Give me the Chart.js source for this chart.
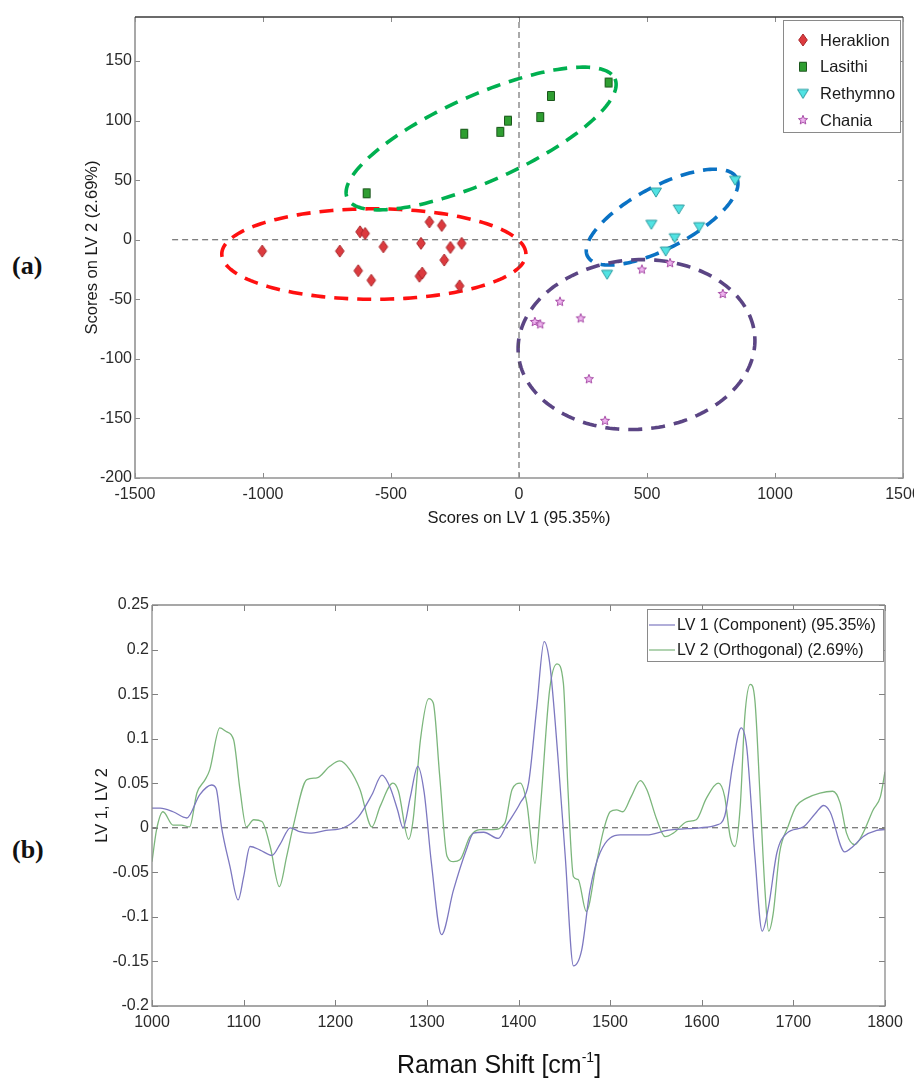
<!DOCTYPE html>
<html>
<head>
<meta charset="utf-8">
<script src="https://cdn.jsdelivr.net/npm/chart.js@4.4.1/dist/chart.umd.min.js"></script>
<style>
  html, body { margin: 0; padding: 0; background: #fff; }
  body { width: 914px; height: 1081px; position: relative; overflow: hidden; font-family: 'Liberation Sans', Arial, sans-serif; }
  .panel { position: absolute; left: 0; }
  #panel-a { top: 0; }
  #panel-b { top: 580px; }
  .tag { position: absolute; left: 12px; font: bold 26px 'Liberation Serif', serif; color: #111; line-height: 1; }
  #tag-a { top: 253px; }
  #tag-b { top: 837px; }
  #xtitle-b { position: absolute; top: 1050px; left: 499px; transform: translateX(-50%); font-size: 25px; color: #111; white-space: nowrap; line-height: 1.15; }
  #xtitle-b sup { font-size: 14px; vertical-align: 11px; line-height: 0; }
</style>
</head>
<body>
<div class="tag" id="tag-a">(a)</div>
<canvas class="panel" id="panel-a" width="914" height="545"></canvas>
<div class="tag" id="tag-b">(b)</div>
<canvas class="panel" id="panel-b" width="914" height="501"></canvas>
<div id="xtitle-b">Raman Shift [cm<sup>-1</sup>]</div>

<script>
// ---------- (a) scores on LV1 / LV2 ----------
const heraklionX = [-1003, -700, -621, -601, -530, -628, -577, -383, -350, -302, -268, -224, -292, -389, -378, -232];
const heraklionY = [-9.5, -9.5, 6.7, 5.3, -5.9, -26, -34, -3, 15, 12, -6.5, -3, -17, -30.6, -28, -38.7];
const lasithiX = [-595, -214, -73, -43, 83, 125, 350];
const lasithiY = [39, 89, 90.6, 100, 103, 120.7, 132];
const rethymnoX = [535, 624, 517, 704, 608, 573, 344, 844];
const rethymnoY = [40, 25.8, 13, 11, 1.7, -9.5, -29, 50];
const chaniaX = [160, 62, 83, 241, 273, 336, 480, 590, 796];
const chaniaY = [-52, -69, -71, -66, -117, -152, -25, -19.6, -45.5];

const scoresXTicks = [-1500, -1000, -500, 0, 500, 1000, 1500];
const scoresYTicks = [-200, -150, -100, -50, 0, 50, 100, 150];

// dashed zero lines
const zeroLineX = [-1355, 1500];
const zeroLineY = [-200, 187];

// group ellipses (centre + two conjugate semi-axes, in score units)
const ellipseCX = [-567, -148, 559, 459];
const ellipseCY = [-12, 85, 19, -88];
const ellipseU = [[594, 0], [523, 50], [291, 33], [462, 7]];
const ellipseV = [[0, 38], [68, -33], [56, -23], [23, -71]];
const ellipseColors = ['#ff1010', '#00b050', '#0a72c4', '#5b4584'];

// ---------- (b) loadings ----------
const lv1Shift = [1000, 1009, 1023, 1038, 1052, 1065, 1070, 1076, 1085, 1094, 1100, 1107, 1118, 1131, 1140, 1151, 1160, 1172, 1190, 1209, 1225, 1240, 1251, 1260, 1268, 1274, 1282, 1290, 1297, 1305, 1316, 1329, 1343, 1351, 1362, 1378, 1387, 1402, 1411, 1420, 1428, 1434, 1443, 1451, 1460, 1469, 1478, 1489, 1511, 1540, 1562, 1598, 1616, 1625, 1634, 1643, 1649, 1658, 1666, 1673, 1682, 1693, 1711, 1724, 1733, 1740, 1756, 1765, 1776, 1791, 1800];
const lv1Values = [0.022, 0.022, 0.018, 0.011, 0.037, 0.048, 0.044, 0.0, -0.043, -0.081, -0.055, -0.021, -0.025, -0.031, -0.018, 0.0, -0.004, -0.006, -0.003, 0.0, 0.012, 0.037, 0.059, 0.045, 0.02, 0.0, 0.035, 0.069, 0.04, -0.04, -0.12, -0.07, -0.025, -0.006, -0.005, -0.012, 0.003, 0.028, 0.05, 0.136, 0.209, 0.185, 0.08, -0.032, -0.155, -0.137, -0.07, -0.028, -0.008, -0.008, -0.003, 0.0, 0.003, 0.013, 0.072, 0.112, 0.091, -0.032, -0.116, -0.088, -0.028, -0.006, 0.001, 0.016, 0.025, 0.018, -0.027, -0.021, -0.01, -0.003, -0.002];
const lv2Shift = [1000, 1005, 1012, 1023, 1032, 1041, 1049, 1058, 1063, 1074, 1081, 1089, 1096, 1103, 1111, 1120, 1129, 1139, 1147, 1154, 1169, 1180, 1194, 1205, 1216, 1227, 1240, 1249, 1263, 1269, 1280, 1285, 1293, 1302, 1307, 1314, 1322, 1329, 1336, 1347, 1358, 1372, 1385, 1393, 1402, 1409, 1418, 1424, 1434, 1442, 1449, 1454, 1460, 1465, 1474, 1485, 1493, 1500, 1507, 1514, 1523, 1533, 1540, 1551, 1560, 1569, 1584, 1594, 1605, 1618, 1625, 1631, 1636, 1642, 1647, 1653, 1658, 1664, 1669, 1673, 1678, 1685, 1694, 1703, 1714, 1729, 1743, 1751, 1758, 1767, 1776, 1787, 1795, 1800];
const lv2Values = [-0.038, -0.002, 0.018, 0.003, 0.003, 0.001, 0.039, 0.054, 0.065, 0.112, 0.108, 0.099, 0.043, 0.001, 0.009, 0.007, -0.021, -0.066, -0.032, 0.001, 0.054, 0.056, 0.069, 0.075, 0.065, 0.043, 0.001, 0.024, 0.05, 0.041, -0.013, 0.009, 0.099, 0.145, 0.14, 0.058, -0.032, -0.038, -0.036, -0.01, -0.002, -0.002, 0.005, 0.043, 0.05, 0.028, -0.04, 0.024, 0.155, 0.184, 0.162, 0.043, -0.055, -0.058, -0.094, -0.04, -0.002, 0.018, 0.02, 0.018, 0.035, 0.053, 0.043, 0.009, -0.01, -0.006, 0.007, 0.009, 0.033, 0.05, 0.035, -0.01, -0.021, 0.024, 0.125, 0.161, 0.143, 0.028, -0.07, -0.116, -0.096, -0.028, 0.001, 0.024, 0.033, 0.039, 0.041, 0.028, -0.006, -0.019, -0.006, 0.02, 0.035, 0.063];

const shiftTicks = [1000, 1100, 1200, 1300, 1400, 1500, 1600, 1700, 1800];
const loadingTicks = [-0.2, -0.15, -0.1, -0.05, 0, 0.05, 0.1, 0.15, 0.2, 0.25];
const loadingTickLabels = ['-0.2', '-0.15', '-0.1', '-0.05', '0', '0.05', '0.1', '0.15', '0.2', '0.25'];
const loadingZeroX = [1000, 1800];

const FONT = "'Liberation Sans', Arial, sans-serif";
const zip = (xs, ys) => xs.map((x, i) => ({ x, y: ys[i] }));

// marker sprites used as pointStyle
function marker(kind) {
  const c = document.createElement('canvas');
  c.width = 14; c.height = 14;
  const g = c.getContext('2d');
  g.translate(7, 7);
  g.lineWidth = 1;
  g.beginPath();
  if (kind === 'diamond') {
    g.moveTo(0, -6); g.lineTo(4.3, 0); g.lineTo(0, 6); g.lineTo(-4.3, 0); g.closePath();
    g.fillStyle = '#dc3a3e'; g.strokeStyle = '#a9272b';
  } else if (kind === 'square') {
    g.rect(-3.5, -4.5, 7, 9);
    g.fillStyle = '#2f9e31'; g.strokeStyle = '#1b561c';
  } else if (kind === 'triangle') {
    g.moveTo(-5.5, -4); g.lineTo(5.5, -4); g.lineTo(0, 5); g.closePath();
    g.fillStyle = '#52e3e3'; g.strokeStyle = '#2b9ba0';
  } else {
    for (let i = 0; i < 10; i++) {
      const r = i % 2 ? 2.1 : 4.8;
      const a = -Math.PI / 2 + i * Math.PI / 5;
      g.lineTo(r * Math.cos(a), r * Math.sin(a));
    }
    g.closePath();
    g.fillStyle = '#efb4ef'; g.strokeStyle = '#a54aa5';
  }
  g.fill(); g.stroke();
  return c;
}

// pins the axis box so the plot area lands where the figure has it
const fixedTicks = values => scale => { scale.ticks = values.map(v => ({ value: v })); };
const fitHeight = h => scale => { scale.height = h; scale.paddingLeft = 0; scale.paddingRight = 0; };
const fitWidth = w => scale => { scale.width = w; scale.paddingTop = 0; scale.paddingBottom = 0; };

// box + inward tick marks, MATLAB style
const framePlugin = {
  id: 'frame',
  afterDraw(chart, args, opts) {
    const { ctx, chartArea: a, scales: { x, y } } = chart;
    const len = opts.tickLength;
    ctx.save();
    ctx.lineWidth = 1;
    ctx.strokeStyle = opts.tickColor;
    ctx.beginPath();
    x.ticks.forEach(t => {
      const px = Math.round(x.getPixelForValue(t.value)) + 0.5;
      ctx.moveTo(px, a.bottom); ctx.lineTo(px, a.bottom - len);
      ctx.moveTo(px, a.top); ctx.lineTo(px, a.top + len);
    });
    y.ticks.forEach(t => {
      const py = Math.round(y.getPixelForValue(t.value)) + 0.5;
      ctx.moveTo(a.left, py); ctx.lineTo(a.left + len, py);
      ctx.moveTo(a.right, py); ctx.lineTo(a.right - len, py);
    });
    ctx.stroke();
    ctx.lineWidth = opts.lineWidth;
    ctx.strokeStyle = opts.sideColor;
    ctx.beginPath();
    ctx.moveTo(a.left, a.top); ctx.lineTo(a.left, a.bottom); ctx.lineTo(a.right, a.bottom); ctx.lineTo(a.right, a.top);
    ctx.stroke();
    ctx.strokeStyle = opts.topColor;
    ctx.beginPath();
    ctx.moveTo(a.left, a.top); ctx.lineTo(a.right, a.top);
    ctx.stroke();
    ctx.restore();
  }
};

// dashed group ellipses, mapped through the scales
const ellipsePlugin = {
  id: 'groupEllipses',
  beforeDatasetsDraw(chart) {
    const { ctx, scales: { x, y } } = chart;
    ctx.save();
    ctx.lineWidth = 3.6;
    ctx.setLineDash([14, 9]);
    ellipseCX.forEach((cx, i) => {
      const [ux, uy] = ellipseU[i];
      const [vx, vy] = ellipseV[i];
      ctx.strokeStyle = ellipseColors[i];
      ctx.beginPath();
      for (let k = 0; k <= 180; k++) {
        const t = k / 180 * Math.PI * 2;
        const px = x.getPixelForValue(cx + ux * Math.cos(t) + vx * Math.sin(t));
        const py = y.getPixelForValue(ellipseCY[i] + uy * Math.cos(t) + vy * Math.sin(t));
        k ? ctx.lineTo(px, py) : ctx.moveTo(px, py);
      }
      ctx.stroke();
    });
    ctx.restore();
  }
};

// legend box inside the plot, top right
const boxLegendPlugin = {
  id: 'boxLegend',
  afterDraw(chart, args, opts) {
    const { ctx, chartArea: a } = chart;
    const items = chart.data.datasets.filter(d => d.inLegend);
    const left = a.right - opts.inset - opts.width;
    const top = a.top + opts.top;
    ctx.save();
    ctx.fillStyle = '#fff';
    ctx.fillRect(left, top, opts.width, opts.height);
    ctx.strokeStyle = '#8a8a8a';
    ctx.lineWidth = 1;
    ctx.strokeRect(left + 0.5, top + 0.5, opts.width, opts.height);
    ctx.font = opts.font;
    ctx.fillStyle = '#1a1a1a';
    ctx.textBaseline = 'middle';
    items.forEach((d, i) => {
      const yy = top + opts.firstRow + i * opts.rowStep;
      if (opts.kind === 'marker') {
        const img = d.pointStyle;
        ctx.drawImage(img, left + opts.sampleX - img.width / 2, yy - img.height / 2);
      } else {
        ctx.strokeStyle = d.borderColor;
        ctx.lineWidth = 1.2;
        ctx.beginPath();
        ctx.moveTo(left + opts.sampleX, yy); ctx.lineTo(left + opts.sampleX + 26, yy);
        ctx.stroke();
      }
      ctx.fillText(d.label, left + opts.textX, yy + 1);
    });
    ctx.restore();
  }
};

document.addEventListener('DOMContentLoaded', () => {
  // 1. Scores plot
  const groups = [
    ['Heraklion', heraklionX, heraklionY, 'diamond'],
    ['Lasithi', lasithiX, lasithiY, 'square'],
    ['Rethymno', rethymnoX, rethymnoY, 'triangle'],
    ['Chania', chaniaX, chaniaY, 'star']
  ];
  const scatterSets = groups.map(([label, xs, ys, kind]) => ({
    label,
    data: zip(xs, ys),
    pointStyle: marker(kind),
    pointRadius: 6,
    inLegend: true
  }));
  const refLine = data => ({
    data, showLine: true, pointRadius: 0, borderColor: '#555', borderWidth: 1, borderDash: [6, 4]
  });

  new Chart(document.getElementById('panel-a'), {
    type: 'scatter',
    data: {
      datasets: [
        ...scatterSets,
        refLine(zip(zeroLineX, [0, 0])),
        refLine(zip([0, 0], zeroLineY))
      ]
    },
    options: {
      responsive: false,
      animation: false,
      devicePixelRatio: 1,
      events: [],
      layout: { padding: { left: 82.4, top: 17, right: 11, bottom: 16.4 } },
      plugins: {
        legend: { display: false },
        tooltip: { enabled: false },
        frame: { tickLength: 5, tickColor: '#8a8a8a', sideColor: '#939393', topColor: '#3a3a3a', lineWidth: 1.6 },
        boxLegend: { kind: 'marker', inset: 3, top: 3, width: 117, height: 112, firstRow: 20, rowStep: 26.7, sampleX: 20, textX: 37, font: '16.5px ' + FONT }
      },
      scales: {
        x: {
          type: 'linear', min: -1500, max: 1500,
          grid: { display: false, drawTicks: false },
          border: { display: false },
          afterBuildTicks: fixedTicks(scoresXTicks),
          afterFit: fitHeight(50.6),
          ticks: { padding: 7, color: '#2a2a2a', font: { family: FONT, size: 16 }, callback: v => String(v), maxRotation: 0 },
          title: { display: true, text: 'Scores on LV 1 (95.35%)', color: '#1a1a1a', padding: 0, font: { family: FONT, size: 16.5 } }
        },
        y: {
          type: 'linear', min: -200, max: 187,
          grid: { display: false, drawTicks: false },
          border: { display: false },
          afterBuildTicks: fixedTicks(scoresYTicks),
          afterFit: fitWidth(52.6),
          ticks: { padding: 3, color: '#2a2a2a', font: { family: FONT, size: 16 }, callback: v => String(v) },
          title: { display: true, text: 'Scores on LV 2 (2.69%)', color: '#1a1a1a', padding: 0, font: { family: FONT, size: 16.5 } }
        }
      }
    },
    plugins: [ellipsePlugin, framePlugin, boxLegendPlugin]
  });

  // 2. Loadings plot
  new Chart(document.getElementById('panel-b'), {
    type: 'line',
    data: {
      datasets: [
        { label: 'LV 1 (Component) (95.35%)', data: zip(lv1Shift, lv1Values), borderColor: '#7d78c0', borderWidth: 1.3, pointRadius: 0, cubicInterpolationMode: 'monotone', inLegend: true },
        { label: 'LV 2 (Orthogonal) (2.69%)', data: zip(lv2Shift, lv2Values), borderColor: '#7cb67c', borderWidth: 1.3, pointRadius: 0, cubicInterpolationMode: 'monotone', inLegend: true },
        { data: zip(loadingZeroX, [0, 0]), borderColor: '#505050', borderWidth: 1, borderDash: [6, 4], pointRadius: 0 }
      ]
    },
    options: {
      responsive: false,
      animation: false,
      devicePixelRatio: 1,
      events: [],
      layout: { padding: { left: 92.4, top: 25, right: 29, bottom: 35 } },
      plugins: {
        legend: { display: false },
        tooltip: { enabled: false },
        frame: { tickLength: 6, tickColor: '#808080', sideColor: '#8a8a8a', topColor: '#8a8a8a', lineWidth: 1.3 },
        boxLegend: { kind: 'line', inset: 2, top: 4, width: 236, height: 52, firstRow: 16, rowStep: 25, sampleX: 2, textX: 30, font: '16px ' + FONT }
      },
      scales: {
        x: {
          type: 'linear', min: 1000, max: 1800,
          grid: { display: false, drawTicks: false },
          border: { display: false },
          afterBuildTicks: fixedTicks(shiftTicks),
          afterFit: fitHeight(40),
          ticks: { padding: 7, color: '#2a2a2a', font: { family: FONT, size: 16 }, callback: v => String(v), maxRotation: 0 }
        },
        y: {
          type: 'linear', min: -0.2, max: 0.25,
          grid: { display: false, drawTicks: false },
          border: { display: false },
          afterBuildTicks: fixedTicks(loadingTicks),
          afterFit: fitWidth(59.6),
          ticks: { padding: 3, color: '#2a2a2a', font: { family: FONT, size: 16 }, callback: (v, i) => loadingTickLabels[i] },
          title: { display: true, text: 'LV 1, LV 2', color: '#1a1a1a', padding: 0, font: { family: FONT, size: 16.5 } }
        }
      }
    },
    plugins: [framePlugin, boxLegendPlugin]
  });
});
</script>
</body>
</html>
